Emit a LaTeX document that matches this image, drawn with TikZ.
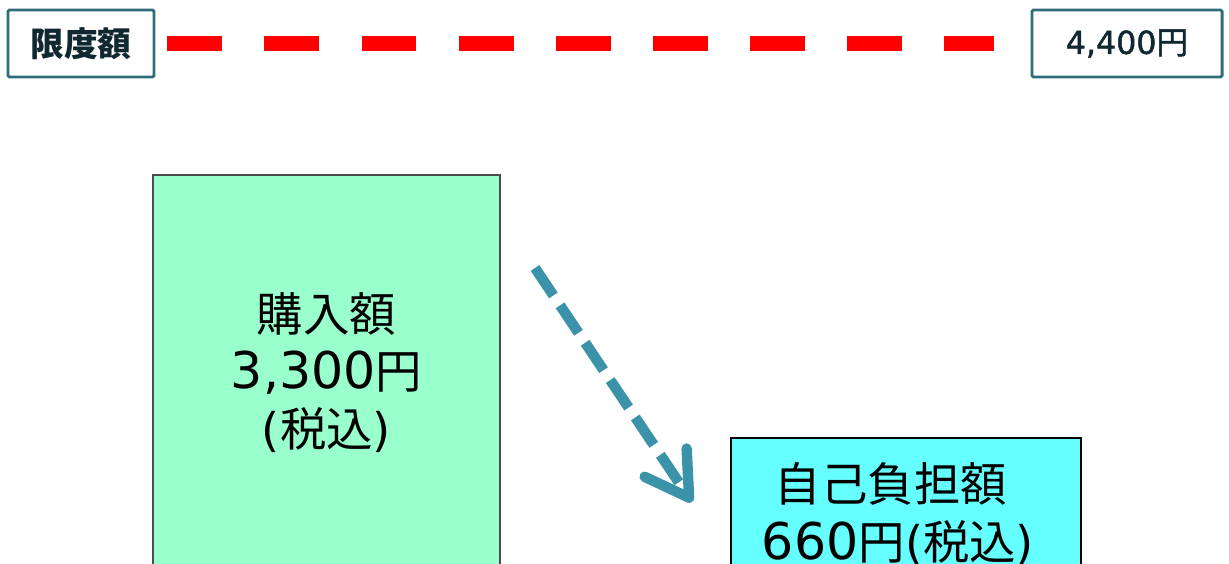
\documentclass[tikz,border=0pt]{standalone}
\usepackage{fontspec}
\setmainfont{DejaVu Sans}
\newfontfamily\jp{Noto Sans CJK JP}
\newfontfamily\tagfont{DejaVu Sans}[FakeBold=1.5]
\newfontfamily\jptag{Noto Sans CJK JP}[FakeBold=1.5]
\usepackage{tikz}
\usetikzlibrary{
  arrows.meta,
  calc,
  positioning
}
\definecolor{frameteal}{RGB}{47,108,124}
\definecolor{labelink}{RGB}{16,40,48}
\definecolor{limitred}{RGB}{255,0,0}
\definecolor{buygreen}{RGB}{153,255,204}
\definecolor{paycyan}{RGB}{102,255,255}
\definecolor{arrowteal}{RGB}{58,147,168}
\newcommand{\num}[1]{{\fontsize{36}{41}\selectfont #1}}

\begin{document}
\begin{tikzpicture}[x=0.025cm, y=-0.025cm,
    tagbox/.style={draw=frameteal, line width=2.1pt, rounded corners=1pt,
      fill=white, text=labelink, minimum height=1.675cm, inner sep=0pt},
    amountbox/.style={line width=1pt, align=center, inner sep=0pt,
      font=\fontsize{33}{41}\selectfont}]
  \useasboundingbox (0,0) rectangle (1229,564);
  \clip (0,0) rectangle (1229,564);

  % limit line
  \node[tagbox, minimum width=3.65cm, font=\fontsize{24}{28}\selectfont\bfseries]
    (lim) at (81,43.5) {\jp 限度額};
  \node[tagbox, minimum width=4.75cm, font=\fontsize{22.5}{26}\selectfont]
    (val) at (1127,43.5) {\tagfont 4,400{\jptag 円}};
  \draw[limitred, line width=10pt, dash pattern=on 39.1pt off 29.9pt,
        shorten <=8.5pt, shorten >=26pt] (lim.east) -- (val.west);

  % amounts
  \node[amountbox, draw=black!70, fill=buygreen, minimum width=8.675cm,
        minimum height=9.875cm] (buy) at (326.5,372.5)
    {{\jp 購入額}\\\num{3,300}{\jp 円}\\({\jp 税込})};
  \node[amountbox, draw=black, fill=paycyan, minimum width=8.75cm,
        minimum height=3.8cm] (pay) at (906,514)
    {{\jp 自己負担額}\hspace*{0.75cm}\\\num{660}{\jp 円}({\jp 税込})\hspace*{0.4cm}};

  % reduction arrow
  \coordinate (from) at (535,268);
  \coordinate (to) at (692,502);
  \draw[arrowteal, line width=7.4pt, dash pattern=on 23.5pt off 8.5pt,
        -{Straight Barb[length=30pt, width=36pt, line cap=round, line join=round]}]
    (from) -- (to);

\end{tikzpicture}
\end{document}
